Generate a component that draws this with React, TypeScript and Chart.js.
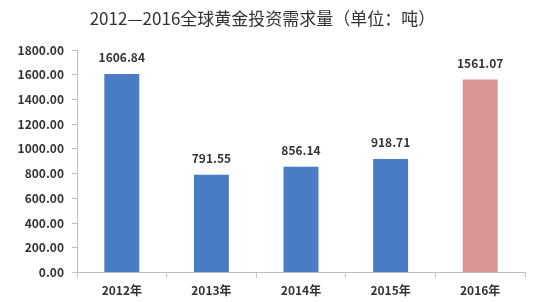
import React, { useEffect, useRef } from "react";
import { Chart, registerables } from "chart.js";

Chart.register(...registerables);

const categories = ["2012年", "2013年", "2014年", "2015年", "2016年"];
const demand = [1606.84, 791.55, 856.14, 918.71, 1561.07];
const barColors = ["#4a7cc6", "#4a7cc6", "#4a7cc6", "#4a7cc6", "#d99694"];
const titleText = "2012—2016全球黄金投资需求量（单位：吨）";
const FONT = "'Noto Sans CJK SC', 'Noto Sans', sans-serif";

const valueLabels = {
  id: "valueLabels",
  afterDatasetsDraw(chart: any) {
    const ctx = chart.ctx;
    const meta = chart.getDatasetMeta(0);
    ctx.save();
    ctx.font = `bold 12px ${FONT}`;
    ctx.fillStyle = "#333333";
    ctx.textAlign = "center";
    ctx.textBaseline = "middle";
    meta.data.forEach((el: any, i: number) => {
      ctx.fillText(demand[i].toFixed(2), el.x, el.y - 16);
    });
    ctx.restore();
  },
};

export default function App() {
  const ref = useRef<HTMLCanvasElement>(null);
  useEffect(() => {
    if (!ref.current) return;
    const chart = new Chart(ref.current, {
      type: "bar",
      data: {
        labels: categories,
        datasets: [
          {
            data: demand,
            backgroundColor: barColors,
            categoryPercentage: 1,
            barPercentage: 0.39,
          },
        ],
      },
      options: {
        animation: false,
        responsive: false,
        maintainAspectRatio: false,
        layout: { padding: { left: 0, right: 29, top: 0, bottom: 0 } },
        plugins: {
          legend: { display: false },
          tooltip: { enabled: false },
          title: {
            display: true,
            text: titleText,
            color: "#333333",
            font: { family: FONT, size: 17, weight: "normal" },
            padding: { top: 8, bottom: 21.6 },
          },
        },
        scales: {
          x: {
            grid: {
              display: true,
              drawOnChartArea: false,
              drawTicks: true,
              tickLength: 5,
              color: "#bfbfbf",
              offset: true,
            },
            border: { color: "#bfbfbf" },
            ticks: {
              color: "#333333",
              padding: 6,
              font: { family: FONT, size: 12, weight: "bold" },
            },
            afterFit: (s: any) => {
              s.height = 29.5;
            },
          },
          y: {
            min: 0,
            max: 1800,
            grid: {
              display: true,
              drawOnChartArea: false,
              drawTicks: true,
              tickLength: 5,
              color: "#bfbfbf",
            },
            border: { color: "#bfbfbf" },
            ticks: {
              stepSize: 200,
              color: "#333333",
              padding: 8,
              font: { family: FONT, size: 12, weight: "bold" },
              callback: (v: any) => Number(v).toFixed(2),
            },
            afterFit: (s: any) => {
              s.width = 77;
            },
          },
        },
      },
      plugins: [valueLabels],
    });
    return () => chart.destroy();
  }, []);
  return (
    <div style={{ position: "fixed", left: 0, top: 0, width: 554, height: 302, background: "#fff" }}>
      <canvas ref={ref} width={554} height={302} />
    </div>
  );
}
